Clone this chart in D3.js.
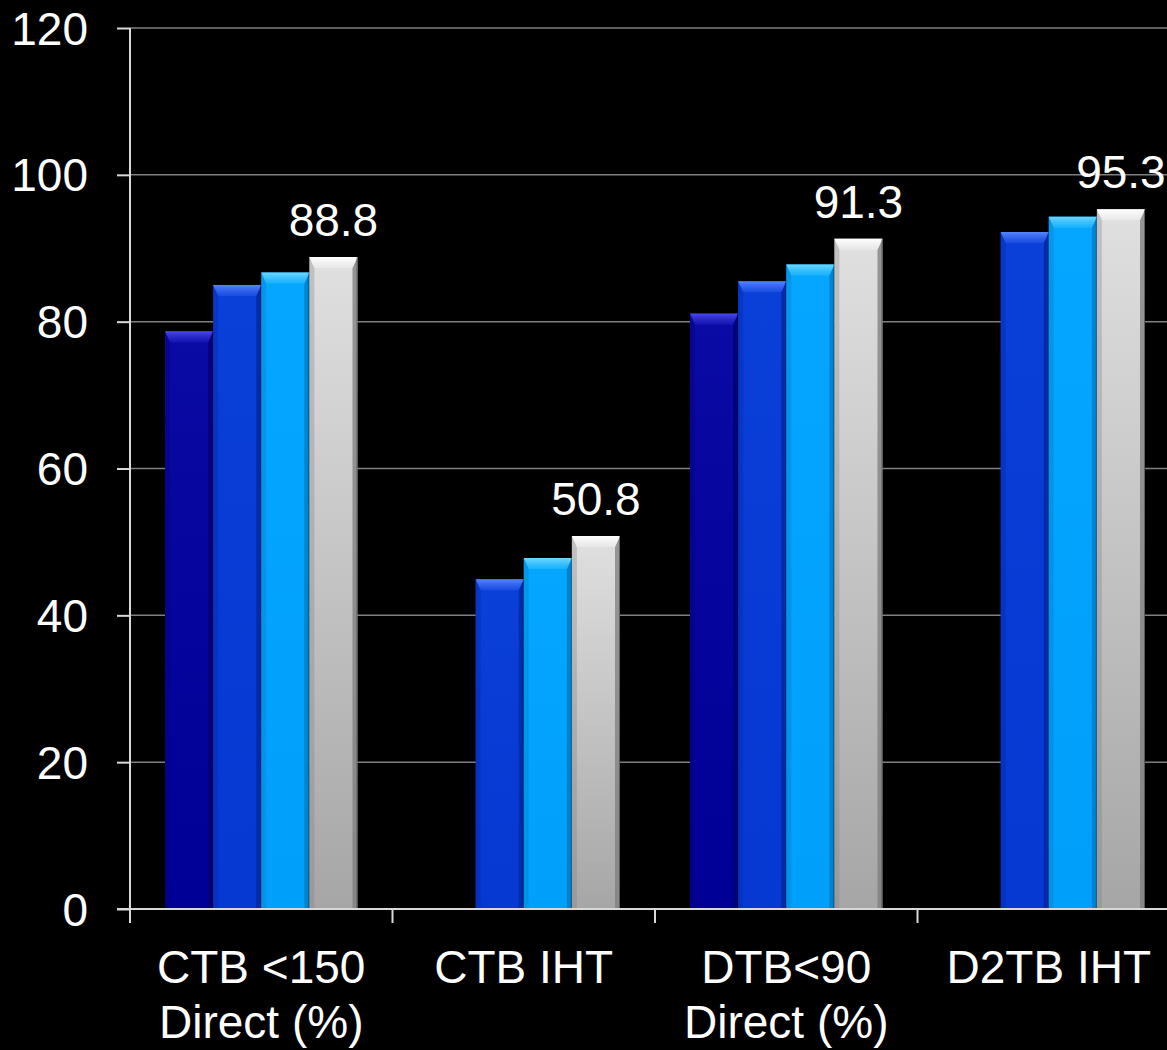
<!DOCTYPE html>
<html>
<head>
<meta charset="utf-8">
<script src="https://cdn.jsdelivr.net/npm/d3@7"></script>
<style>
  html, body { margin: 0; padding: 0; background: #000; overflow: hidden; }
  svg { display: block; }
  text { font-family: "Liberation Sans", Arial, sans-serif; fill: #fff; }
</style>
</head>
<body>
<script>
// ---- data ----
const categories = [["CTB <150", "Direct (%)"], ["CTB IHT"], ["DTB<90", "Direct (%)"], ["D2TB IHT"]];
const series1 = [78.7, null, 81.1, null];
const series2 = [85.0, 44.9, 85.5, 92.2];
const series3 = [86.7, 47.8, 87.8, 94.3];
const series4 = [88.8, 50.8, 91.3, 95.3];
const yTicks = [0, 20, 40, 60, 80, 100, 120];
const labelledSeries = 3; // index of series with data labels

const W = 1167, H = 1050;
const seriesList = [series1, series2, series3, series4];
const seriesColors = [
  { top: "#2020c0", light: "#4a4aee", main1: "#0a0aa4", main2: "#000096", side: "#00006e" },
  { top: "#2a5ae8", light: "#5585ff", main1: "#0a3fd8", main2: "#0638d2", side: "#00269a" },
  { top: "#30bcff", light: "#70d8ff", main1: "#05a6ff", main2: "#00a0fa", side: "#0078c0" },
  { top: "#f0f0f0", light: "#ffffff", main1: "#e0e0e0", main2: "#a6a6a6", side: "#7c7c7c" }
];

const svg = d3.select("body").append("svg").attr("width", W).attr("height", H);
const defs = svg.append("defs");
seriesColors.forEach((c, i) => {
  const g = defs.append("linearGradient").attr("id", "main" + i)
    .attr("x1", 0).attr("y1", 0).attr("x2", 0).attr("y2", 1);
  g.append("stop").attr("offset", "0%").attr("stop-color", c.main1);
  g.append("stop").attr("offset", "100%").attr("stop-color", c.main2);
  const t = defs.append("linearGradient").attr("id", "top" + i)
    .attr("x1", 0).attr("y1", 0).attr("x2", 0).attr("y2", 1);
  t.append("stop").attr("offset", "0%").attr("stop-color", c.light);
  t.append("stop").attr("offset", "100%").attr("stop-color", c.top).attr("stop-opacity", 0.5);
});

const x0 = d3.scaleBand().domain(d3.range(categories.length)).range([130, 1180]).padding(0);
const x1 = d3.scaleBand().domain(d3.range(seriesList.length))
  .range([35, x0.bandwidth() - 35]).padding(0);
const y = d3.scaleLinear().domain([0, 120]).range([909, 28]);

// gridlines
svg.append("g").selectAll("line").data(yTicks.filter(d => d > 0)).join("line")
  .attr("x1", 130).attr("x2", W).attr("y1", d => y(d)).attr("y2", d => y(d))
  .attr("stroke", "#7f7f7f").attr("stroke-width", 1.5);

// bars
const bars = [];
seriesList.forEach((s, si) => s.forEach((v, ci) => {
  if (v != null) bars.push({ si, ci, v });
}));
const bg = svg.append("g");
bars.forEach(b => {
  const bx = x0(b.ci) + x1(b.si), bw = x1.bandwidth();
  const by = y(b.v), bh = y(0) - by;
  const c = seriesColors[b.si];
  const g = bg.append("g");
  const tb = 11, sb = 5;
  g.append("rect").attr("x", bx).attr("y", by).attr("width", bw).attr("height", bh)
    .attr("fill", `url(#main${b.si})`);
  // side bevels
  g.append("path").attr("d", `M${bx},${by} L${bx + sb},${by + tb} L${bx + sb},${y(0)} L${bx},${y(0)} Z`)
    .attr("fill", c.side).attr("opacity", 0.3);
  g.append("path").attr("d", `M${bx + bw},${by} L${bx + bw - sb},${by + tb} L${bx + bw - sb},${y(0)} L${bx + bw},${y(0)} Z`)
    .attr("fill", c.side).attr("opacity", 0.75);
  // top bevel
  g.append("path").attr("d", `M${bx},${by} L${bx + bw},${by} L${bx + bw - sb},${by + tb} L${bx + sb},${by + tb} Z`)
    .attr("fill", `url(#top${b.si})`);
  g.append("line").attr("x1", bx + bw - 0.5).attr("x2", bx + bw - 0.5).attr("y1", by).attr("y2", y(0))
    .attr("stroke", "#000").attr("stroke-opacity", 0.35).attr("stroke-width", 1);
});

// data labels
svg.append("g").selectAll("text").data(series4.map((v, ci) => ({ v, ci }))).join("text")
  .attr("x", d => x0(d.ci) + x1(labelledSeries) + x1.bandwidth() / 2)
  .attr("y", d => y(d.v) - 21)
  .attr("text-anchor", "middle").attr("font-size", 46)
  .text(d => d.v.toFixed(1));

// y axis
const yAxis = svg.append("g").attr("transform", "translate(130,0)")
  .call(d3.axisLeft(y).tickValues(yTicks).tickSize(13).tickPadding(29).tickFormat(d3.format("d")));
yAxis.select(".domain").attr("stroke", "#d9d9d9").attr("stroke-width", 2).attr("d", `M0,${y(120)}V${y(0)}`);
yAxis.selectAll(".tick line").attr("stroke", "#d9d9d9").attr("stroke-width", 2);
yAxis.selectAll(".tick text").attr("fill", "#fff").attr("font-size", 46)
  .attr("font-family", '"Liberation Sans", Arial, sans-serif').attr("dy", "0.35em");

// x axis
const xAxis = svg.append("g").attr("transform", `translate(0,${y(0)})`);
xAxis.append("line").attr("x1", 117).attr("x2", W).attr("y1", 0).attr("y2", 0)
  .attr("stroke", "#d9d9d9").attr("stroke-width", 2);
xAxis.selectAll("line.tk").data(d3.range(categories.length + 1)).join("line").attr("class", "tk")
  .attr("x1", d => 130 + d * x0.bandwidth()).attr("x2", d => 130 + d * x0.bandwidth())
  .attr("y1", 0).attr("y2", 14).attr("stroke", "#d9d9d9").attr("stroke-width", 2);
const cl = xAxis.selectAll("text.cat").data(categories).join("text").attr("class", "cat")
  .attr("text-anchor", "middle").attr("font-size", 46);
cl.each(function (lines, i) {
  const t = d3.select(this);
  lines.forEach((ln, k) => {
    t.append("tspan").attr("x", x0(i) + x0.bandwidth() / 2).attr("y", 74 + k * 55).text(ln);
  });
});
</script>
</body>
</html>
